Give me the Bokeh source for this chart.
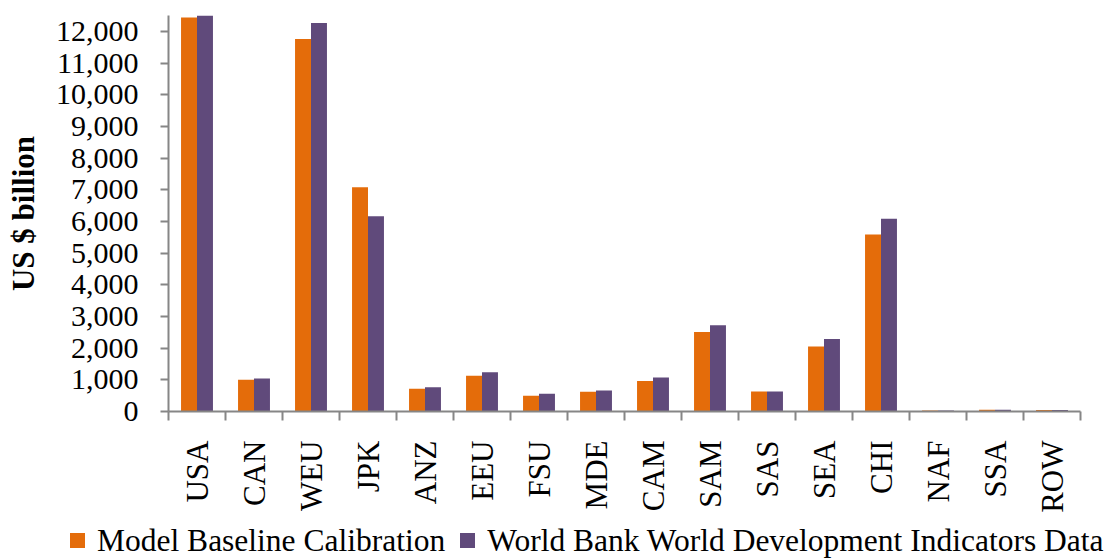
import math
from bokeh.plotting import figure
from bokeh.layouts import column
from bokeh.models import (ColumnDataSource, FixedTicker, NumeralTickFormatter,
                          Range1d, Div)
from bokeh.embed import file_html
from bokeh.resources import INLINE

categories = ["USA", "CAN", "WEU", "JPK", "ANZ", "EEU", "FSU", "MDE",
              "CAM", "SAM", "SAS", "SEA", "CHI", "NAF", "SSA", "ROW"]
model_baseline = [12440, 1000, 11760, 7080, 715, 1125, 495, 620,
                  965, 2510, 630, 2050, 5590, 30, 55, 45]
world_bank = [12500, 1040, 12260, 6160, 765, 1240, 557, 660,
              1070, 2720, 630, 2290, 6085, 30, 55, 45]
y_ticks = list(range(0, 13000, 1000))
series_names = ["Model Baseline Calibration",
                "World Bank World Development Indicators Data"]

ORANGE = "#E46C0A"
PURPLE = "#604A7B"
AXIS = "#868686"
FONT = "Liberation Serif"

n = len(categories)
centers = [i + 0.5 for i in range(n)]
bw = 0.28
src = ColumnDataSource(dict(
    cat=categories,
    xm=[c - bw / 2 for c in centers],
    xw=[c + bw / 2 for c in centers],
    model=model_baseline,
    wb=world_bank,
))

p = figure(width=1108, height=518, output_backend="svg", toolbar_location=None,
           x_range=Range1d(0, n), y_range=Range1d(0, 12500),
           min_border_left=168, min_border_right=28, min_border_top=15,
           min_border_bottom=107)
p.outline_line_color = None
p.grid.grid_line_color = None
p.background_fill_color = "white"

p.vbar(x="xm", top="model", width=bw, source=src, color=ORANGE, line_color=None)
p.vbar(x="xw", top="wb", width=bw, source=src, color=PURPLE, line_color=None)

# x axis: labels at category centres, tick marks at category boundaries
xa = p.xaxis[0]
xa.ticker = FixedTicker(ticks=centers, minor_ticks=list(range(n + 1)))
xa.major_label_overrides = {c: lab for c, lab in zip(centers, categories)}
xa.major_tick_out = 0
xa.major_tick_in = 0
xa.minor_tick_out = 9
xa.minor_tick_in = 0
xa.minor_tick_line_color = AXIS
xa.minor_tick_line_width = 2
xa.axis_line_color = AXIS
xa.axis_line_width = 2
xa.major_label_orientation = math.pi / 2
xa.major_label_text_font = FONT
xa.major_label_text_font_size = "31px"
xa.major_label_text_color = "black"
xa.major_label_standoff = 20

ya = p.yaxis[0]
ya.ticker = FixedTicker(ticks=y_ticks)
ya.formatter = NumeralTickFormatter(format="0,0")
ya.major_tick_out = 8
ya.major_tick_in = 0
ya.minor_tick_line_color = None
ya.major_tick_line_color = AXIS
ya.major_tick_line_width = 2
ya.axis_line_color = AXIS
ya.axis_line_width = 2
ya.major_label_text_font = FONT
ya.major_label_text_font_size = "30px"
ya.major_label_text_color = "black"
ya.major_label_standoff = 22
ya.axis_label = "US $ billion"
ya.axis_label_text_font = FONT
ya.axis_label_text_font_style = "bold"
ya.axis_label_text_font_size = "31px"
ya.axis_label_text_color = "black"
ya.axis_label_standoff = 12

# legend strip underneath the chart
def swatch(color):
    return ('<span style="display:inline-block;width:15px;height:15px;'
            f'background:{color};margin-right:12px;"></span>')

legend_html = (
    '<div style="display:flex;align-items:center;height:41px;padding-top:4px;'
    'box-sizing:border-box;padding-left:70px;white-space:nowrap;'
    f"font-family:'{FONT}';font-size:31.5px;color:black;line-height:1;\">"
    f'{swatch(ORANGE)}<span>{series_names[0]}</span>'
    f'<span style="display:inline-block;width:15px;"></span>'
    f'{swatch(PURPLE)}<span>{series_names[1]}</span>'
    '</div>'
)
lg = Div(text=legend_html, width=1108, height=41, margin=0)

layout = column(p, lg, spacing=0)
open("out.html", "w").write(file_html(layout, INLINE))
